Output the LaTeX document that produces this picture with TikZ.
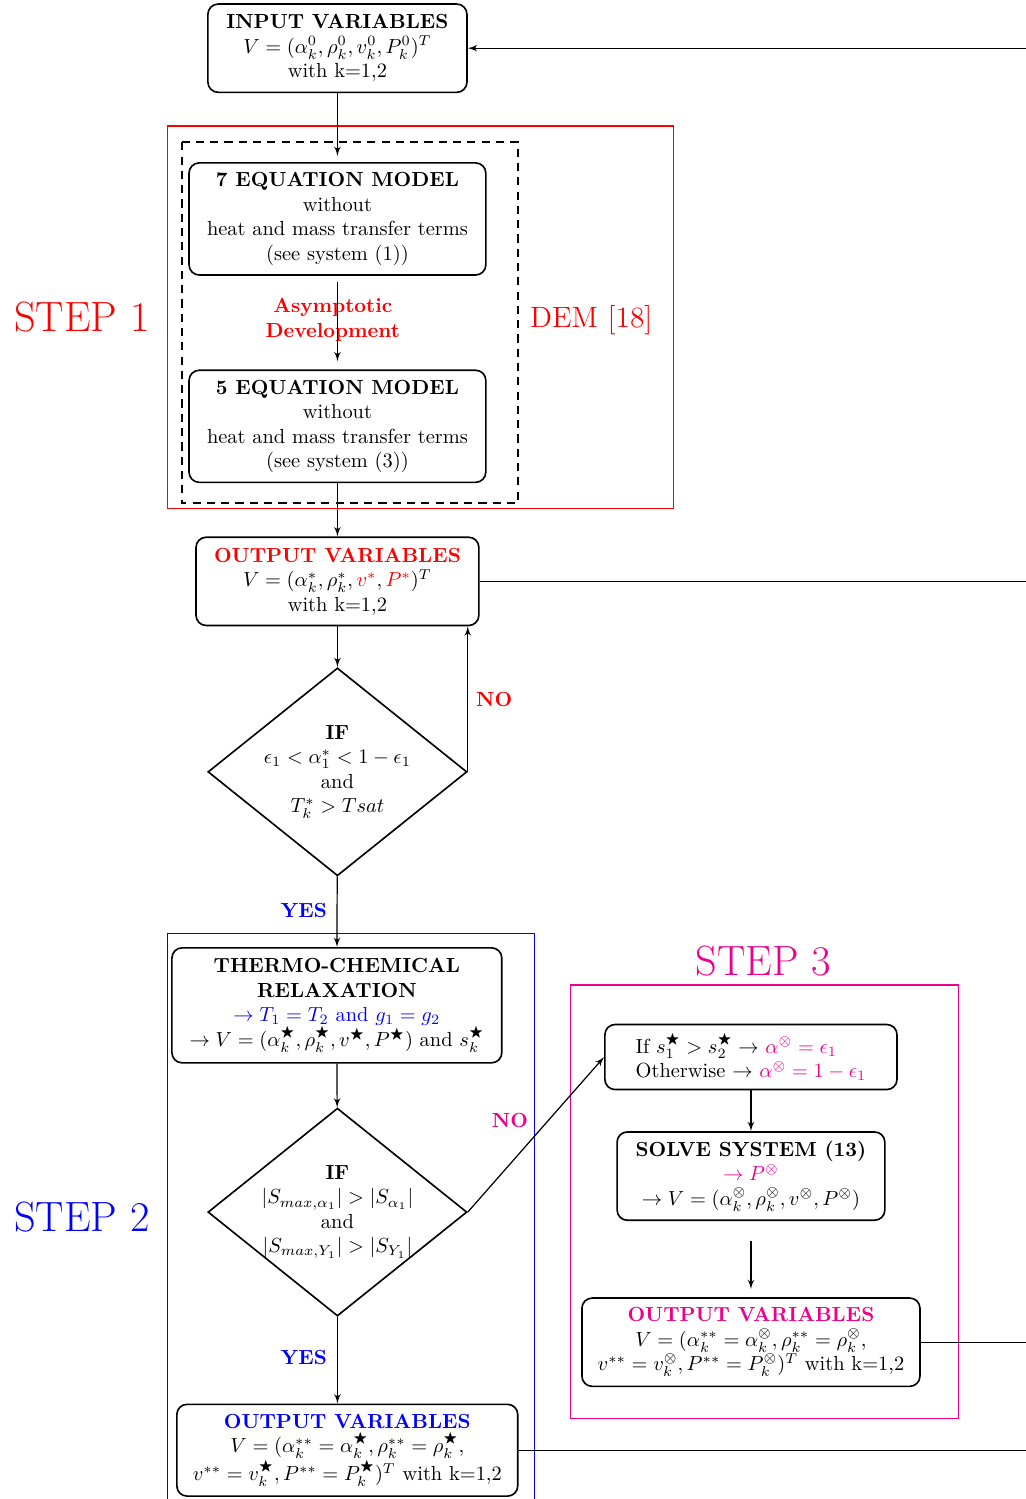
\documentclass[tikz,border=0pt]{standalone}
\usepackage{amsmath}
\usepackage{amssymb}
\usepackage{tikz}
\usetikzlibrary{arrows}
\usetikzlibrary{shapes.geometric}
\definecolor{stepmag}{RGB}{236,0,140}
\tikzset{box/.style = {draw, thick, rounded corners=5pt, align=center, inner sep=2pt},
         test/.style = {draw, thick, diamond, aspect=1.25, inner sep=-2.5pt, align=center,
                        minimum width=4.46cm, minimum height=3.58cm},
         steplabel/.style = {font=\huge},
         answer/.style = {font=\bfseries},
         >=latex'}

\begin{document}
\begin{tikzpicture}[semithick]
      \useasboundingbox (0, 0) rectangle (17.65, -25.81);
      \coordinate (rim) at (17.9, 0);

      % frames of the three steps
      \draw [red] (2.88, -2.17) rectangle (11.59, -8.75);
      \draw [thick, dash pattern=on 4pt off 3pt] (3.13, -2.45) rectangle (8.92, -8.66);
      \draw [blue] (2.88, -16.07) rectangle (9.20, -26.2);
      \draw [stepmag] (9.82, -16.96) rectangle (16.50, -24.42);

      \node (stepone) at (1.41, -5.46) [steplabel, red] {STEP 1};
      \node (steptwo) at (1.41, -20.96) [steplabel, blue] {STEP 2};
      \node (stepthree) at (13.14, -16.55) [steplabel, stepmag] {STEP 3};
      \node (dem) at (10.18, -5.51) [red, font=\Large] {DEM [18]};

      \node (input) at (5.81, -0.83) [box, minimum width=4.46cm, minimum height=1.52cm]
        {\textbf{INPUT VARIABLES}\\ $V=(\alpha_k^0,\rho_k^0,v_k^0,P_k^0)^T$\\ with k=1,2};
      \node (eqseven) at (5.81, -3.77) [box, minimum width=5.11cm, minimum height=1.93cm]
        {\textbf{7 EQUATION MODEL}\\ without\\ heat and mass transfer terms\\ (see system (1))};
      \node (eqfive) at (5.81, -7.34) [box, minimum width=5.11cm, minimum height=1.93cm]
        {\textbf{5 EQUATION MODEL}\\ without\\ heat and mass transfer terms\\ (see system (3))};
      \node (asym) at (5.73, -5.51) [red, font=\bfseries, align=center] {Asymptotic\\ Development};
      \node (outone) at (5.81, -10.01) [box, minimum width=4.87cm, minimum height=1.52cm]
        {\textcolor{red}{\textbf{OUTPUT VARIABLES}}\\
         $V=(\alpha_k^*,\rho_k^*,\textcolor{red}{v^*},\textcolor{red}{P^*})^T$\\ with k=1,2};
      \node (ifone) at (5.81, -13.29) [test]
        {\textbf{IF}\\ $\epsilon_1<\alpha_1^*<1-\epsilon_1$\\ and\\ $T_k^*>Tsat$};

      \node (thermo) at (5.80, -17.31) [box, minimum width=5.68cm, minimum height=1.98cm]
        {\textbf{THERMO-CHEMICAL}\\ \textbf{RELAXATION}\\
         \textcolor{blue}{$\rightarrow T_1=T_2$ and $g_1=g_2$}\\
         $\rightarrow V=(\alpha_k^\bigstar,\rho_k^\bigstar,v^\bigstar,P^\bigstar)$ and $s_k^\bigstar$};
      \node (iftwo) at (5.81, -20.87) [test]
        {\textbf{IF}\\ $|S_{max,\alpha_1}|>|S_{\alpha_1}|$\\ and\\ $|S_{max,Y_1}|>|S_{Y_1}|$};
      \node (outtwo) at (5.98, -24.97) [box, minimum width=5.87cm, minimum height=1.58cm]
        {\textcolor{blue}{\textbf{OUTPUT VARIABLES}}\\
         $V=(\alpha_k^{**}=\alpha_k^\bigstar,\rho_k^{**}=\rho_k^\bigstar,$\\
         $v^{**}=v_k^\bigstar,P^{**}=P_k^\bigstar)^T$ with k=1,2};

      \node (choice) at (12.93, -18.20) [box, align=left, minimum width=5.03cm, minimum height=1.12cm]
        {If $s_1^\bigstar>s_2^\bigstar\rightarrow$ \textcolor{stepmag}{$\alpha^\otimes=\epsilon_1$}\\
         Otherwise $\rightarrow$ \textcolor{stepmag}{$\alpha^\otimes=1-\epsilon_1$}};
      \node (solve) at (12.93, -20.25) [box, minimum width=4.61cm, minimum height=1.52cm]
        {\textbf{SOLVE SYSTEM (13)}\\ \textcolor{stepmag}{$\rightarrow P^\otimes$}\\
         $\rightarrow V=(\alpha_k^\otimes,\rho_k^\otimes,v^\otimes,P^\otimes)$};
      \node (outthree) at (12.93, -23.11) [box, minimum width=5.82cm, minimum height=1.52cm]
        {\textcolor{stepmag}{\textbf{OUTPUT VARIABLES}}\\
         $V=(\alpha_k^{**}=\alpha_k^\otimes,\rho_k^{**}=\rho_k^\otimes,$\\
         $v^{**}=v_k^\otimes,P^{**}=P_k^\otimes)^T$ with k=1,2};

      \node (noone) at (8.51, -12.05) [answer, red] {NO};
      \node (yesone) at (5.23, -15.67) [answer, blue] {YES};
      \node (notwo) at (8.78, -19.30) [answer, stepmag] {NO};
      \node (yestwo) at (5.23, -23.37) [answer, blue] {YES};

      % connectors
      \draw [->] (input.east -| rim) -- (input.east);
      \draw [->, shorten >=3pt] (input) -- (eqseven);
      \draw [->, shorten <=3pt, shorten >=4pt] (eqseven) -- (eqfive);
      \draw [->] (eqfive) -- (outone);
      \draw (outone.east) -- (outone.east -| rim);
      \draw [->] (outone) -- (ifone);
      \draw [->] (ifone.east) -- (ifone.east |- outone.south);
      \draw [->] (ifone) -- (thermo);
      \draw [->] (thermo) -- (iftwo);
      \draw [->] (iftwo.east) -- (choice.west);
      \draw [->] (iftwo.south) -- (iftwo.south |- outtwo.north);
      \draw (outtwo.east) -- (outtwo.east -| rim);
      \draw [->] (choice) -- (solve);
      \draw [->, shorten <=10pt, shorten >=4pt] (solve) -- (outthree);
      \draw (outthree.east) -- (outthree.east -| rim);
\end{tikzpicture}
\end{document}
